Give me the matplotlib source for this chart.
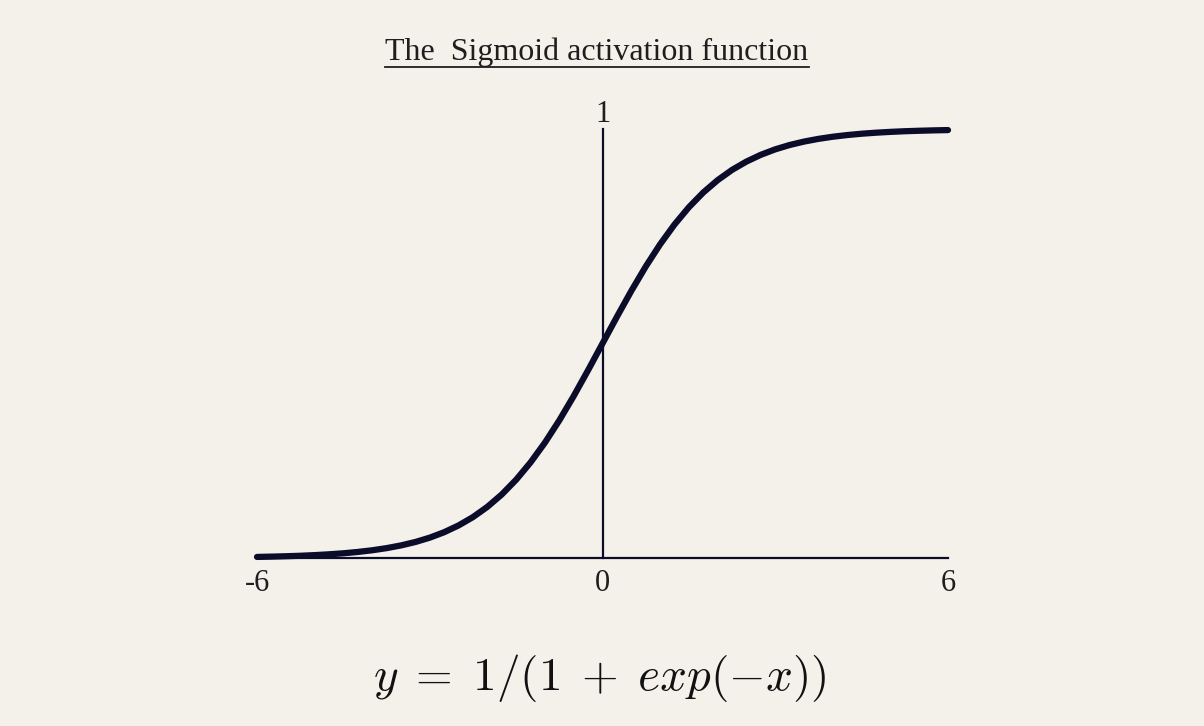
import matplotlib
matplotlib.use('Agg')
import matplotlib.pyplot as plt
from matplotlib.lines import Line2D

plt.rcParams['mathtext.fontset'] = 'cm'

# points
xs = [-6, -5.75, -5.5, -5.25, -5, -4.75, -4.5, -4.25, -4, -3.75, -3.5, -3.25,
      -3, -2.75, -2.5, -2.25, -2, -1.75, -1.5, -1.25, -1, -0.75, -0.5, -0.25,
      0, 0.25, 0.5, 0.75, 1, 1.25, 1.5, 1.75, 2, 2.25, 2.5, 2.75, 3, 3.25,
      3.5, 3.75, 4, 4.25, 4.5, 4.75, 5, 5.25, 5.5, 5.75, 6]
ys = [0.0025, 0.0032, 0.0041, 0.0052, 0.0067, 0.0086, 0.011, 0.0141, 0.018,
      0.023, 0.0293, 0.0373, 0.0474, 0.0601, 0.0759, 0.0953, 0.1192, 0.148,
      0.1824, 0.2227, 0.2689, 0.3208, 0.3775, 0.4378, 0.5, 0.5622, 0.6225,
      0.6792, 0.7311, 0.7773, 0.8176, 0.852, 0.8808, 0.9047, 0.9241, 0.9399,
      0.9526, 0.9627, 0.9707, 0.977, 0.982, 0.9859, 0.989, 0.9914, 0.9933,
      0.9948, 0.9959, 0.9968, 0.9975]
tick_pos = [-6, 0, 6]
tick_labels = ['-6', '0', '6']

bg = '#f4f1eb'
ink = '#0b0b2a'
serif = ['Liberation Serif', 'DejaVu Serif']

fig = plt.figure(figsize=(12.04, 7.26), dpi=100, facecolor=bg)
ax = fig.add_axes([257 / 1204, 1 - 558 / 726, 691 / 1204, 429 / 726])
ax.set_facecolor('none')
ax.set_xlim(-6, 6)
ax.set_ylim(0, 1)

ax.plot(xs, ys, color=ink, lw=4.5, solid_capstyle='round',
        solid_joinstyle='round', clip_on=False, zorder=3)

for s in ['top', 'right']:
    ax.spines[s].set_visible(False)
for s in ['left', 'bottom']:
    ax.spines[s].set_position(('data', 0))
    ax.spines[s].set_color(ink)
    ax.spines[s].set_linewidth(1.6)

ax.set_xticks(tick_pos)
ax.set_xticklabels(tick_labels, family=serif, fontsize=22, color='#1e1e1e')
ax.tick_params(axis='x', length=0, pad=8)
ax.set_yticks([])
ax.text(0, 1.0, '1', ha='center', va='bottom', family=serif, fontsize=22,
        color='#1e1e1e')

title = fig.text(597 / 1204, 1 - 52 / 726, 'The  Sigmoid activation function',
                 ha='center', va='center', family=serif, fontsize=23,
                 color='#1e1e1e')
fig.canvas.draw()
bb = title.get_window_extent()
uy = 1 - 67 / 726
fig.add_artist(Line2D([bb.x0 / 1204, bb.x1 / 1204], [uy, uy],
                      transform=fig.transFigure, color='#1e1e1e', lw=1.3))

fig.text(600 / 1204, 1 - 678 / 726, r'$y\;=\;1/(1\;+\;exp(-x))$', ha='center',
         va='center', fontsize=34, color='#111111')

fig.savefig('out.png', dpi=100, facecolor=bg)
